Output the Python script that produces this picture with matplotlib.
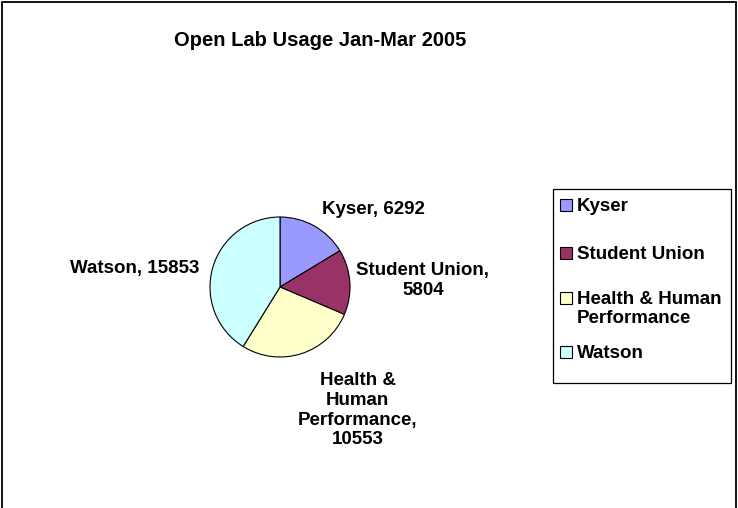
import matplotlib
matplotlib.use('Agg')
from matplotlib import pyplot as plt
from matplotlib.patches import Rectangle

# lab usage counts, Jan-Mar 2005
labs = ['Kyser', 'Student Union', 'Health & Human Performance', 'Watson']
usage = [6292, 5804, 10553, 15853]
colors = ['#9999FF', '#993366', '#FFFFCC', '#CCFFFF']

# how the labels are wrapped on the chart and in the legend
slice_text = ['Kyser, 6292', 'Student Union,\n5804',
              'Health &\nHuman\nPerformance,\n10553', 'Watson, 15853']
legend_text = ['Kyser', 'Student Union', 'Health & Human\nPerformance', 'Watson']

# label spots, in pie radius units from the centre
label_xy = [(1.33, 1.11), (2.04, 0.09), (1.11, -1.76), (-2.07, 0.27)]
# legend rows (pixel y of each entry's first line)
legend_rows = [205, 253, 298, 352]

plt.rcParams['font.family'] = ['Liberation Sans', 'DejaVu Sans']
plt.rcParams['font.weight'] = 'bold'

W, H = 738, 508
fig = plt.figure(figsize=(W / 100, H / 100), dpi=100)
fig.patch.set_facecolor('white')


def px(x, y):
    # pixel position (from top left) -> figure fraction
    return x / W, 1 - y / H


# outer frame of the chart (bottom runs off the picture)
fig.add_artist(Rectangle((2 / W, -0.1), (W - 4) / W, 1.1 - 2 / H,
                         transform=fig.transFigure, fill=False,
                         edgecolor='black', linewidth=1.3))

fig.text(*px(320, 40), 'Open Lab Usage Jan-Mar 2005',
         ha='center', va='center', fontsize=14.5, fontweight='bold')

# pie centre at (280, 287) px, radius 70 px
ax = fig.add_axes([210 / W, 1 - 357 / H, 140 / W, 140 / H])
wedges, _ = ax.pie(usage, colors=colors, startangle=90, counterclock=False,
                   wedgeprops={'edgecolor': 'black', 'linewidth': 0.8})
ax.set_xlim(-1, 1)
ax.set_ylim(-1, 1)

for txt, (x, y) in zip(slice_text, label_xy):
    ax.text(x, y, txt, ha='center', va='center', fontsize=13.5,
            fontweight='bold', linespacing=1.2, clip_on=False)

# legend box drawn by hand so the rows sit like the original
x0, y0 = px(553, 383)
x1, y1 = px(731, 189)
fig.add_artist(Rectangle((x0, y0), x1 - x0, y1 - y0, transform=fig.transFigure,
                         facecolor='white', edgecolor='black', linewidth=0.9))
for wedge, txt, row in zip(wedges, legend_text, legend_rows):
    sx, sy = px(560, row + 6)
    fig.add_artist(Rectangle((sx, sy), 12 / W, 12 / H, transform=fig.transFigure,
                             facecolor=wedge.get_facecolor(), edgecolor='black',
                             linewidth=0.8))
    for i, line in enumerate(txt.split('\n')):
        fig.text(*px(577, row + 6 + 19 * i), line, ha='left', va='baseline',
                 fontsize=13.5, fontweight='bold')

fig.savefig('out.png', dpi=100)
